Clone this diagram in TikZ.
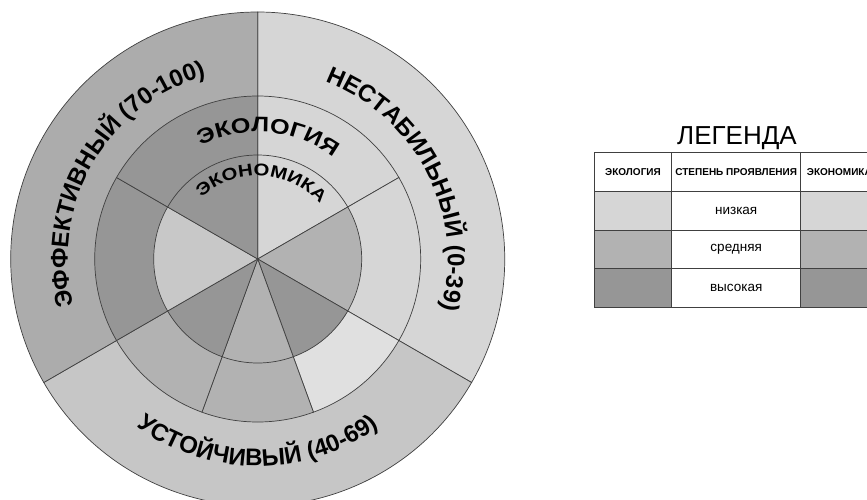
\documentclass[tikz,border=0pt]{standalone}
\usepackage{fontspec}
\setmainfont{Liberation Sans}
\newfontfamily\widefont[FakeStretch=1.2]{Liberation Sans}
\usetikzlibrary{positioning,decorations.text}
\definecolor{lowc}{RGB}{214,214,214}
\definecolor{midc}{RGB}{178,178,178}
\definecolor{highc}{RGB}{150,150,150}
\definecolor{palec}{RGB}{224,224,224}
\definecolor{outmid}{RGB}{198,198,198}
\definecolor{outhigh}{RGB}{172,172,172}
\definecolor{innlow}{RGB}{200,200,200}
\newcommand\ringfont{\bfseries\fontsize{24}{24}\selectfont}
\newcommand\ecolfont{\widefont\bfseries\fontsize{21}{21}\selectfont}
\newcommand\econfont{\widefont\bfseries\fontsize{17}{17}\selectfont}
\newcommand\hdrfont{\bfseries\fontsize{10}{10}\selectfont}

\begin{document}
\begin{tikzpicture}[x=1pt,y=1pt,
  sector/.style={draw=black!75,line width=0.7pt},
  cell/.style={draw=black!75,line width=0.8pt,minimum width=77.4pt,
               minimum height=38.85pt,inner sep=0pt,outer sep=0pt,anchor=north west},
  arclabel/.style={decorate,decoration={text along path,text align=center,text={#1}}}]
 \fill[white] (-257.7,-240) rectangle (609.3,259);
 \useasboundingbox (-257.7,-240) rectangle (609.3,259);
 \clip (-257.7,-240) rectangle (609.3,259);
 % outer ring
 \foreach \a/\b/\c in {-30/90/lowc,-150/-30/outmid,90/210/outhigh}
   \filldraw[sector,fill=\c] (0,0) -- (\a:247pt) arc[start angle=\a,end angle=\b,radius=247pt] -- cycle;
 % ecology ring
 \foreach \a/\b/\c in {30/90/lowc,-30/30/lowc,-70/-30/palec,-110/-70/midc,-150/-110/midc,150/210/highc,90/150/highc}
   \filldraw[sector,fill=\c] (0,0) -- (\a:163pt) arc[start angle=\a,end angle=\b,radius=163pt] -- cycle;
 % economy ring
 \foreach \a/\b/\c in {30/90/lowc,-30/30/midc,-70/-30/highc,-110/-70/midc,-150/-110/highc,150/210/innlow,90/150/highc}
   \filldraw[sector,fill=\c] (0,0) -- (\a:104pt) arc[start angle=\a,end angle=\b,radius=104pt] -- cycle;
 % labels on the rings
 \path[arclabel={|\ringfont|НЕСТАБИЛЬНЫЙ (0-39)}] (110:190pt) arc[start angle=110,end angle=-56,radius=190pt];
 \path[arclabel={|\ringfont|ЭФФЕКТИВНЫЙ (70-100)}] (230:190pt) arc[start angle=230,end angle=70,radius=190pt];
 \path[arclabel={|\ringfont|УСТОЙЧИВЫЙ (40-69)}] (190:207pt) arc[start angle=190,end angle=350,radius=207pt];
 \path[arclabel={|\ecolfont|ЭКОЛОГИЯ}] (165:127pt) arc[start angle=165,end angle=5,radius=127pt];
 \path[arclabel={|\econfont|ЭКОНОМИКА}] (167:83pt) arc[start angle=167,end angle=7,radius=83pt];
 % legend
 \node[font=\fontsize{26}{26}\selectfont,anchor=base] (legtitle) at (479.3,115) {ЛЕГЕНДА};
 \node[cell,font=\hdrfont] (hd1) at (336.6,106.7) {ЭКОЛОГИЯ};
 \node[cell,font=\hdrfont,minimum width=129pt,right=0pt of hd1] (hd2) {СТЕПЕНЬ ПРОЯВЛЕНИЯ};
 \node[cell,font=\hdrfont,right=0pt of hd2] (hd3) {ЭКОНОМИКА};
 \foreach \txt/\fc [count=\i] in {низкая/lowc,средняя/midc,высокая/highc}{
   \node[cell,fill=\fc] (eco\i) at (336.6,106.7-\i*38.85) {};
   \node[cell,font=\fontsize{13.5}{13.5}\selectfont,minimum width=129pt,right=0pt of eco\i] (lvl\i) {\txt};
   \node[cell,fill=\fc,right=0pt of lvl\i] (ecn\i) {};
 }
\end{tikzpicture}
\end{document}
